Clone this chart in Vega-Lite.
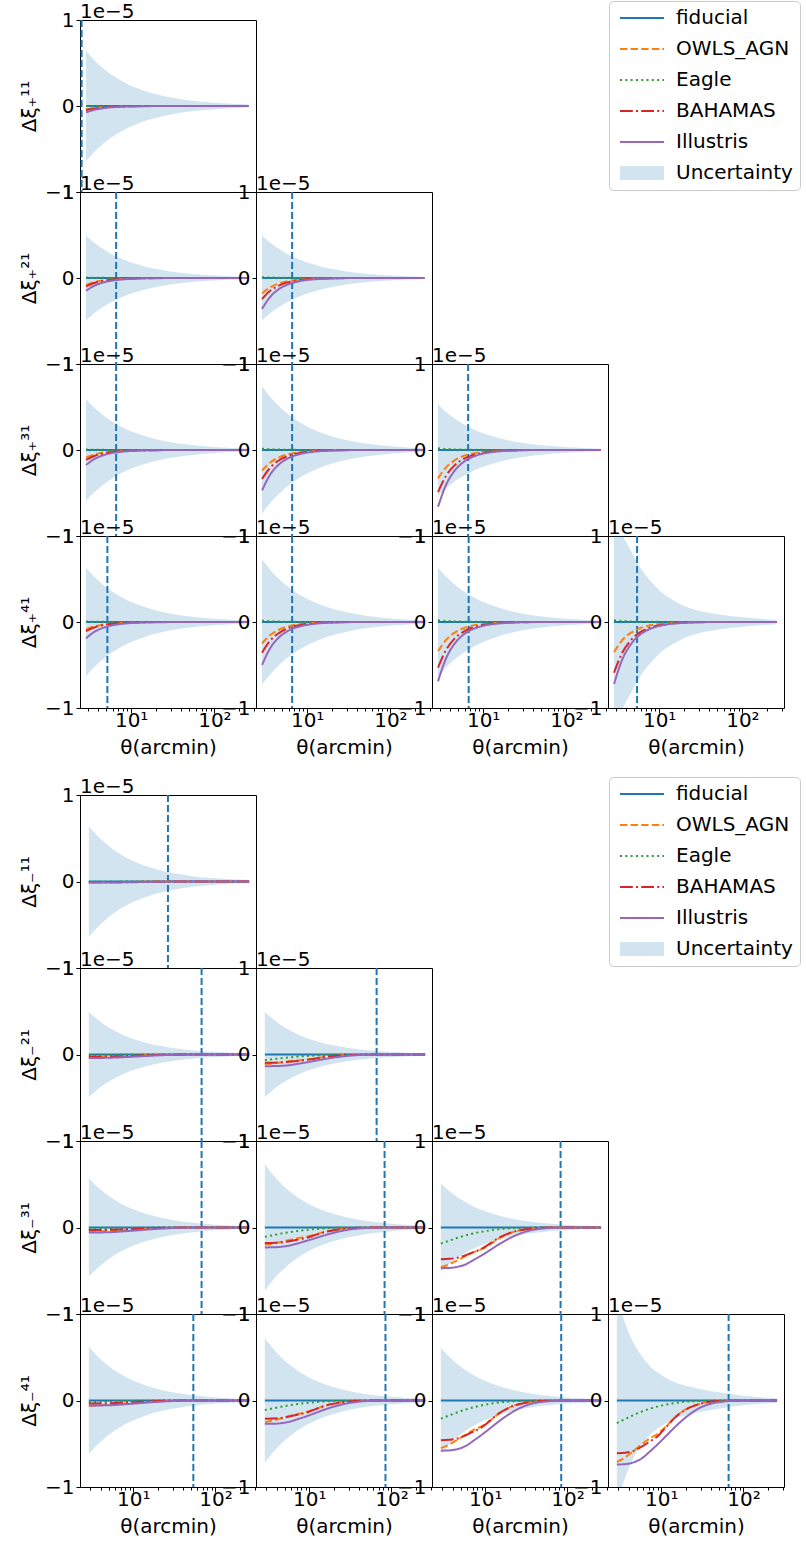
{
"$schema":"https://vega.github.io/schema/vega-lite/v6.json",
"background":"white",
"padding":{"left":19,"top":0,"right":0,"bottom":0},
"datasets":{
"c":[{"p":"a11","t":2.54},{"p":"a21","t":6.6},{"p":"a22","t":6.6},{"p":"a31","t":6.6},{"p":"a32","t":6.6},{"p":"a33","t":6.6},{"p":"a41","t":5.18},{"p":"a42","t":6.6},{"p":"a43","t":6.7},{"p":"a44","t":5.43},
{"p":"m11","t":26.4},{"p":"m21","t":67.8},{"p":"m22","t":66},{"p":"m31","t":67.8},{"p":"m32","t":82.5},{"p":"m33","t":82.5},{"p":"m41","t":53.8},{"p":"m42","t":84.6},{"p":"m43","t":84},{"p":"m44","t":66}],
"d":[
{"p":"a11","t":2.87,"lo":-0.64,"hi":0.64,"f":0,"o":-0.04,"e":0,"b":-0.047,"i":-0.074},
{"p":"a11","t":3.6,"lo":-0.534,"hi":0.534,"f":0,"o":-0.024,"e":0,"b":-0.029,"i":-0.045},
{"p":"a11","t":4.5,"lo":-0.447,"hi":0.447,"f":0,"o":-0.015,"e":0,"b":-0.017,"i":-0.028},
{"p":"a11","t":5.7,"lo":-0.37,"hi":0.37,"f":0,"o":-0.009,"e":0,"b":-0.01,"i":-0.016},
{"p":"a11","t":7.2,"lo":-0.307,"hi":0.307,"f":0,"o":-0.005,"e":0,"b":-0.006,"i":-0.01},
{"p":"a11","t":9.1,"lo":-0.254,"hi":0.254,"f":0,"o":-0.003,"e":0,"b":-0.004,"i":-0.006},
{"p":"a11","t":11.5,"lo":-0.211,"hi":0.211,"f":0,"o":-0.002,"e":0,"b":-0.002,"i":-0.003},
{"p":"a11","t":14.5,"lo":-0.175,"hi":0.175,"f":0,"o":-0.001,"e":0,"b":-0.001,"i":-0.002},
{"p":"a11","t":20,"lo":-0.136,"hi":0.136,"f":0,"o":-0.001,"e":0,"b":-0.001,"i":-0.001},
{"p":"a11","t":30,"lo":-0.098,"hi":0.098,"f":0,"o":0,"e":0,"b":0,"i":0},
{"p":"a11","t":50,"lo":-0.065,"hi":0.065,"f":0,"o":0,"e":0,"b":0,"i":0},
{"p":"a11","t":100,"lo":-0.037,"hi":0.037,"f":0,"o":0,"e":0,"b":0,"i":0},
{"p":"a11","t":257,"lo":-0.017,"hi":0.017,"f":0,"o":0,"e":0,"b":0,"i":0},

{"p":"a21","t":2.87,"lo":-0.49,"hi":0.49,"f":0,"o":-0.08,"e":0.005,"b":-0.098,"i":-0.148},
{"p":"a21","t":3.6,"lo":-0.409,"hi":0.409,"f":0,"o":-0.049,"e":0.003,"b":-0.059,"i":-0.09},
{"p":"a21","t":4.5,"lo":-0.342,"hi":0.342,"f":0,"o":-0.03,"e":0.002,"b":-0.036,"i":-0.055},
{"p":"a21","t":5.7,"lo":-0.283,"hi":0.283,"f":0,"o":-0.018,"e":0.001,"b":-0.022,"i":-0.033},
{"p":"a21","t":7.2,"lo":-0.235,"hi":0.235,"f":0,"o":-0.011,"e":0.001,"b":-0.013,"i":-0.02},
{"p":"a21","t":9.1,"lo":-0.195,"hi":0.195,"f":0,"o":-0.006,"e":0,"b":-0.008,"i":-0.012},
{"p":"a21","t":11.5,"lo":-0.162,"hi":0.162,"f":0,"o":-0.004,"e":0,"b":-0.005,"i":-0.007},
{"p":"a21","t":14.5,"lo":-0.134,"hi":0.134,"f":0,"o":-0.002,"e":0,"b":-0.003,"i":-0.004},
{"p":"a21","t":20,"lo":-0.104,"hi":0.104,"f":0,"o":-0.001,"e":0,"b":-0.001,"i":-0.002},
{"p":"a21","t":30,"lo":-0.075,"hi":0.075,"f":0,"o":0,"e":0,"b":0,"i":-0.001},
{"p":"a21","t":50,"lo":-0.05,"hi":0.05,"f":0,"o":0,"e":0,"b":0,"i":0},
{"p":"a21","t":100,"lo":-0.028,"hi":0.028,"f":0,"o":0,"e":0,"b":0,"i":0},
{"p":"a21","t":257,"lo":-0.013,"hi":0.013,"f":0,"o":0,"e":0,"b":0,"i":0},

{"p":"a22","t":2.87,"lo":-0.49,"hi":0.49,"f":0,"o":-0.18,"e":0.01,"b":-0.245,"i":-0.36},
{"p":"a22","t":3.6,"lo":-0.409,"hi":0.409,"f":0,"o":-0.109,"e":0.006,"b":-0.149,"i":-0.219},
{"p":"a22","t":4.5,"lo":-0.342,"hi":0.342,"f":0,"o":-0.067,"e":0.004,"b":-0.091,"i":-0.134},
{"p":"a22","t":5.7,"lo":-0.283,"hi":0.283,"f":0,"o":-0.04,"e":0.002,"b":-0.054,"i":-0.08},
{"p":"a22","t":7.2,"lo":-0.235,"hi":0.235,"f":0,"o":-0.024,"e":0.001,"b":-0.032,"i":-0.048},
{"p":"a22","t":9.1,"lo":-0.195,"hi":0.195,"f":0,"o":-0.014,"e":0.001,"b":-0.019,"i":-0.028},
{"p":"a22","t":11.5,"lo":-0.162,"hi":0.162,"f":0,"o":-0.008,"e":0,"b":-0.012,"i":-0.017},
{"p":"a22","t":14.5,"lo":-0.134,"hi":0.134,"f":0,"o":-0.005,"e":0,"b":-0.007,"i":-0.01},
{"p":"a22","t":20,"lo":-0.104,"hi":0.104,"f":0,"o":-0.003,"e":0,"b":-0.003,"i":-0.005},
{"p":"a22","t":30,"lo":-0.075,"hi":0.075,"f":0,"o":-0.001,"e":0,"b":-0.001,"i":-0.001},
{"p":"a22","t":50,"lo":-0.05,"hi":0.05,"f":0,"o":0,"e":0,"b":0,"i":0},
{"p":"a22","t":100,"lo":-0.028,"hi":0.028,"f":0,"o":0,"e":0,"b":0,"i":0},
{"p":"a22","t":257,"lo":-0.013,"hi":0.013,"f":0,"o":0,"e":0,"b":0,"i":0},

{"p":"a31","t":2.87,"lo":-0.59,"hi":0.59,"f":0,"o":-0.086,"e":0.005,"b":-0.116,"i":-0.174},
{"p":"a31","t":3.6,"lo":-0.492,"hi":0.492,"f":0,"o":-0.052,"e":0.003,"b":-0.07,"i":-0.106},
{"p":"a31","t":4.5,"lo":-0.412,"hi":0.412,"f":0,"o":-0.032,"e":0.002,"b":-0.043,"i":-0.065},
{"p":"a31","t":5.7,"lo":-0.341,"hi":0.341,"f":0,"o":-0.019,"e":0.001,"b":-0.026,"i":-0.038},
{"p":"a31","t":7.2,"lo":-0.283,"hi":0.283,"f":0,"o":-0.011,"e":0.001,"b":-0.015,"i":-0.023},
{"p":"a31","t":9.1,"lo":-0.234,"hi":0.234,"f":0,"o":-0.007,"e":0,"b":-0.009,"i":-0.014},
{"p":"a31","t":11.5,"lo":-0.195,"hi":0.195,"f":0,"o":-0.004,"e":0,"b":-0.005,"i":-0.008},
{"p":"a31","t":14.5,"lo":-0.162,"hi":0.162,"f":0,"o":-0.002,"e":0,"b":-0.003,"i":-0.005},
{"p":"a31","t":20,"lo":-0.125,"hi":0.125,"f":0,"o":-0.001,"e":0,"b":-0.002,"i":-0.002},
{"p":"a31","t":30,"lo":-0.09,"hi":0.09,"f":0,"o":0,"e":0,"b":0,"i":-0.001},
{"p":"a31","t":50,"lo":-0.06,"hi":0.06,"f":0,"o":0,"e":0,"b":0,"i":0},
{"p":"a31","t":100,"lo":-0.034,"hi":0.034,"f":0,"o":0,"e":0,"b":0,"i":0},
{"p":"a31","t":257,"lo":-0.016,"hi":0.016,"f":0,"o":0,"e":0,"b":0,"i":0},

{"p":"a32","t":2.87,"lo":-0.74,"hi":0.74,"f":0,"o":-0.24,"e":0.015,"b":-0.337,"i":-0.47},
{"p":"a32","t":3.6,"lo":-0.617,"hi":0.617,"f":0,"o":-0.146,"e":0.009,"b":-0.205,"i":-0.285},
{"p":"a32","t":4.5,"lo":-0.517,"hi":0.517,"f":0,"o":-0.089,"e":0.006,"b":-0.125,"i":-0.175},
{"p":"a32","t":5.7,"lo":-0.428,"hi":0.428,"f":0,"o":-0.053,"e":0.003,"b":-0.074,"i":-0.104},
{"p":"a32","t":7.2,"lo":-0.354,"hi":0.354,"f":0,"o":-0.032,"e":0.002,"b":-0.044,"i":-0.062},
{"p":"a32","t":9.1,"lo":-0.294,"hi":0.294,"f":0,"o":-0.019,"e":0.001,"b":-0.027,"i":-0.037},
{"p":"a32","t":11.5,"lo":-0.244,"hi":0.244,"f":0,"o":-0.011,"e":0.001,"b":-0.016,"i":-0.022},
{"p":"a32","t":14.5,"lo":-0.203,"hi":0.203,"f":0,"o":-0.007,"e":0,"b":-0.009,"i":-0.013},
{"p":"a32","t":20,"lo":-0.157,"hi":0.157,"f":0,"o":-0.003,"e":0,"b":-0.005,"i":-0.007},
{"p":"a32","t":30,"lo":-0.113,"hi":0.113,"f":0,"o":-0.001,"e":0,"b":-0.001,"i":-0.002},
{"p":"a32","t":50,"lo":-0.075,"hi":0.075,"f":0,"o":0,"e":0,"b":0,"i":0},
{"p":"a32","t":100,"lo":-0.043,"hi":0.043,"f":0,"o":0,"e":0,"b":0,"i":0},
{"p":"a32","t":257,"lo":-0.02,"hi":0.02,"f":0,"o":0,"e":0,"b":0,"i":0},

{"p":"a33","t":2.87,"lo":-0.53,"hi":0.53,"f":0,"o":-0.33,"e":0.02,"b":-0.49,"i":-0.66},
{"p":"a33","t":3.6,"lo":-0.442,"hi":0.442,"f":0,"o":-0.2,"e":0.012,"b":-0.297,"i":-0.401},
{"p":"a33","t":4.5,"lo":-0.37,"hi":0.37,"f":0,"o":-0.123,"e":0.007,"b":-0.182,"i":-0.246},
{"p":"a33","t":5.7,"lo":-0.306,"hi":0.306,"f":0,"o":-0.073,"e":0.004,"b":-0.108,"i":-0.146},
{"p":"a33","t":7.2,"lo":-0.254,"hi":0.254,"f":0,"o":-0.044,"e":0.003,"b":-0.065,"i":-0.087},
{"p":"a33","t":9.1,"lo":-0.21,"hi":0.21,"f":0,"o":-0.026,"e":0.002,"b":-0.039,"i":-0.052},
{"p":"a33","t":11.5,"lo":-0.175,"hi":0.175,"f":0,"o":-0.016,"e":0.001,"b":-0.023,"i":-0.031},
{"p":"a33","t":14.5,"lo":-0.145,"hi":0.145,"f":0,"o":-0.009,"e":0.001,"b":-0.014,"i":-0.018},
{"p":"a33","t":20,"lo":-0.112,"hi":0.112,"f":0,"o":-0.005,"e":0,"b":-0.007,"i":-0.009},
{"p":"a33","t":30,"lo":-0.081,"hi":0.081,"f":0,"o":-0.001,"e":0,"b":-0.002,"i":-0.003},
{"p":"a33","t":50,"lo":-0.054,"hi":0.054,"f":0,"o":0,"e":0,"b":0,"i":0},
{"p":"a33","t":100,"lo":-0.031,"hi":0.031,"f":0,"o":0,"e":0,"b":0,"i":0},
{"p":"a33","t":257,"lo":-0.014,"hi":0.014,"f":0,"o":0,"e":0,"b":0,"i":0},

{"p":"a41","t":2.87,"lo":-0.63,"hi":0.63,"f":0,"o":-0.085,"e":0.005,"b":-0.105,"i":-0.19},
{"p":"a41","t":3.6,"lo":-0.525,"hi":0.525,"f":0,"o":-0.052,"e":0.003,"b":-0.064,"i":-0.115},
{"p":"a41","t":4.5,"lo":-0.44,"hi":0.44,"f":0,"o":-0.032,"e":0.002,"b":-0.039,"i":-0.071},
{"p":"a41","t":5.7,"lo":-0.364,"hi":0.364,"f":0,"o":-0.019,"e":0.001,"b":-0.023,"i":-0.042},
{"p":"a41","t":7.2,"lo":-0.302,"hi":0.302,"f":0,"o":-0.011,"e":0.001,"b":-0.014,"i":-0.025},
{"p":"a41","t":9.1,"lo":-0.25,"hi":0.25,"f":0,"o":-0.007,"e":0,"b":-0.008,"i":-0.015},
{"p":"a41","t":11.5,"lo":-0.208,"hi":0.208,"f":0,"o":-0.004,"e":0,"b":-0.005,"i":-0.009},
{"p":"a41","t":14.5,"lo":-0.173,"hi":0.173,"f":0,"o":-0.002,"e":0,"b":-0.003,"i":-0.005},
{"p":"a41","t":20,"lo":-0.134,"hi":0.134,"f":0,"o":-0.001,"e":0,"b":-0.001,"i":-0.003},
{"p":"a41","t":30,"lo":-0.096,"hi":0.096,"f":0,"o":0,"e":0,"b":0,"i":-0.001},
{"p":"a41","t":50,"lo":-0.064,"hi":0.064,"f":0,"o":0,"e":0,"b":0,"i":0},
{"p":"a41","t":100,"lo":-0.037,"hi":0.037,"f":0,"o":0,"e":0,"b":0,"i":0},
{"p":"a41","t":257,"lo":-0.017,"hi":0.017,"f":0,"o":0,"e":0,"b":0,"i":0},

{"p":"a42","t":2.87,"lo":-0.73,"hi":0.73,"f":0,"o":-0.25,"e":0.015,"b":-0.357,"i":-0.5},
{"p":"a42","t":3.6,"lo":-0.609,"hi":0.609,"f":0,"o":-0.152,"e":0.009,"b":-0.217,"i":-0.304},
{"p":"a42","t":4.5,"lo":-0.51,"hi":0.51,"f":0,"o":-0.093,"e":0.006,"b":-0.133,"i":-0.186},
{"p":"a42","t":5.7,"lo":-0.422,"hi":0.422,"f":0,"o":-0.055,"e":0.003,"b":-0.079,"i":-0.111},
{"p":"a42","t":7.2,"lo":-0.35,"hi":0.35,"f":0,"o":-0.033,"e":0.002,"b":-0.047,"i":-0.066},
{"p":"a42","t":9.1,"lo":-0.29,"hi":0.29,"f":0,"o":-0.02,"e":0.001,"b":-0.028,"i":-0.04},
{"p":"a42","t":11.5,"lo":-0.241,"hi":0.241,"f":0,"o":-0.012,"e":0.001,"b":-0.017,"i":-0.024},
{"p":"a42","t":14.5,"lo":-0.2,"hi":0.2,"f":0,"o":-0.007,"e":0,"b":-0.01,"i":-0.014},
{"p":"a42","t":20,"lo":-0.155,"hi":0.155,"f":0,"o":-0.004,"e":0,"b":-0.005,"i":-0.007},
{"p":"a42","t":30,"lo":-0.112,"hi":0.112,"f":0,"o":-0.001,"e":0,"b":-0.001,"i":-0.002},
{"p":"a42","t":50,"lo":-0.074,"hi":0.074,"f":0,"o":0,"e":0,"b":0,"i":0},
{"p":"a42","t":100,"lo":-0.042,"hi":0.042,"f":0,"o":0,"e":0,"b":0,"i":0},
{"p":"a42","t":257,"lo":-0.02,"hi":0.02,"f":0,"o":0,"e":0,"b":0,"i":0},

{"p":"a43","t":2.87,"lo":-0.63,"hi":0.63,"f":0,"o":-0.34,"e":0.02,"b":-0.53,"i":-0.69},
{"p":"a43","t":3.6,"lo":-0.525,"hi":0.525,"f":0,"o":-0.206,"e":0.012,"b":-0.322,"i":-0.419},
{"p":"a43","t":4.5,"lo":-0.44,"hi":0.44,"f":0,"o":-0.126,"e":0.007,"b":-0.197,"i":-0.257},
{"p":"a43","t":5.7,"lo":-0.364,"hi":0.364,"f":0,"o":-0.075,"e":0.004,"b":-0.117,"i":-0.152},
{"p":"a43","t":7.2,"lo":-0.302,"hi":0.302,"f":0,"o":-0.045,"e":0.003,"b":-0.07,"i":-0.091},
{"p":"a43","t":9.1,"lo":-0.25,"hi":0.25,"f":0,"o":-0.027,"e":0.002,"b":-0.042,"i":-0.055},
{"p":"a43","t":11.5,"lo":-0.208,"hi":0.208,"f":0,"o":-0.016,"e":0.001,"b":-0.025,"i":-0.032},
{"p":"a43","t":14.5,"lo":-0.173,"hi":0.173,"f":0,"o":-0.01,"e":0.001,"b":-0.015,"i":-0.019},
{"p":"a43","t":20,"lo":-0.134,"hi":0.134,"f":0,"o":-0.005,"e":0,"b":-0.007,"i":-0.01},
{"p":"a43","t":30,"lo":-0.096,"hi":0.096,"f":0,"o":-0.001,"e":0,"b":-0.002,"i":-0.003},
{"p":"a43","t":50,"lo":-0.064,"hi":0.064,"f":0,"o":0,"e":0,"b":0,"i":0},
{"p":"a43","t":100,"lo":-0.037,"hi":0.037,"f":0,"o":0,"e":0,"b":0,"i":0},
{"p":"a43","t":257,"lo":-0.017,"hi":0.017,"f":0,"o":0,"e":0,"b":0,"i":0},

{"p":"a44","t":2.87,"lo":-1.25,"hi":1.25,"f":0,"o":-0.35,"e":0.02,"b":-0.59,"i":-0.72},
{"p":"a44","t":3.6,"lo":-1.02,"hi":1.02,"f":0,"o":-0.212,"e":0.012,"b":-0.358,"i":-0.437},
{"p":"a44","t":4.5,"lo":-0.84,"hi":0.84,"f":0,"o":-0.13,"e":0.007,"b":-0.219,"i":-0.268},
{"p":"a44","t":5.7,"lo":-0.66,"hi":0.66,"f":0,"o":-0.077,"e":0.004,"b":-0.13,"i":-0.159},
{"p":"a44","t":7.2,"lo":-0.52,"hi":0.52,"f":0,"o":-0.046,"e":0.003,"b":-0.078,"i":-0.095},
{"p":"a44","t":9.1,"lo":-0.41,"hi":0.41,"f":0,"o":-0.028,"e":0.002,"b":-0.047,"i":-0.057},
{"p":"a44","t":11.5,"lo":-0.32,"hi":0.32,"f":0,"o":-0.016,"e":0.001,"b":-0.028,"i":-0.034},
{"p":"a44","t":14.5,"lo":-0.26,"hi":0.26,"f":0,"o":-0.01,"e":0.001,"b":-0.017,"i":-0.02},
{"p":"a44","t":20,"lo":-0.185,"hi":0.185,"f":0,"o":-0.005,"e":0,"b":-0.008,"i":-0.01},
{"p":"a44","t":30,"lo":-0.13,"hi":0.13,"f":0,"o":-0.001,"e":0,"b":-0.002,"i":-0.003},
{"p":"a44","t":50,"lo":-0.09,"hi":0.09,"f":0,"o":0,"e":0,"b":0,"i":0},
{"p":"a44","t":100,"lo":-0.055,"hi":0.055,"f":0,"o":0,"e":0,"b":0,"i":0},
{"p":"a44","t":257,"lo":-0.025,"hi":0.025,"f":0,"o":0,"e":0,"b":0,"i":0},

{"p":"m11","t":2.87,"lo":-0.64,"hi":0.64,"f":0,"o":-0.01,"e":-0.003,"b":-0.01,"i":-0.012},
{"p":"m11","t":3.6,"lo":-0.534,"hi":0.534,"f":0,"o":-0.009,"e":-0.002,"b":-0.01,"i":-0.012},
{"p":"m11","t":4.5,"lo":-0.447,"hi":0.447,"f":0,"o":-0.008,"e":-0.002,"b":-0.01,"i":-0.012},
{"p":"m11","t":5.7,"lo":-0.37,"hi":0.37,"f":0,"o":-0.007,"e":-0.002,"b":-0.009,"i":-0.011},
{"p":"m11","t":7.2,"lo":-0.307,"hi":0.307,"f":0,"o":-0.006,"e":-0.001,"b":-0.008,"i":-0.01},
{"p":"m11","t":9.1,"lo":-0.254,"hi":0.254,"f":0,"o":-0.005,"e":-0.001,"b":-0.007,"i":-0.008},
{"p":"m11","t":11.5,"lo":-0.211,"hi":0.211,"f":0,"o":-0.004,"e":-0.001,"b":-0.005,"i":-0.007},
{"p":"m11","t":14.5,"lo":-0.175,"hi":0.175,"f":0,"o":-0.003,"e":0,"b":-0.003,"i":-0.005},
{"p":"m11","t":20,"lo":-0.136,"hi":0.136,"f":0,"o":-0.001,"e":0,"b":-0.002,"i":-0.003},
{"p":"m11","t":30,"lo":-0.098,"hi":0.098,"f":0,"o":0,"e":0,"b":-0.001,"i":-0.001},
{"p":"m11","t":50,"lo":-0.065,"hi":0.065,"f":0,"o":0,"e":0,"b":0,"i":0},
{"p":"m11","t":100,"lo":-0.037,"hi":0.037,"f":0,"o":0,"e":0,"b":0,"i":0},
{"p":"m11","t":257,"lo":-0.017,"hi":0.017,"f":0,"o":0,"e":0,"b":0,"i":0},

{"p":"m21","t":2.87,"lo":-0.49,"hi":0.49,"f":0,"o":-0.035,"e":-0.01,"b":-0.027,"i":-0.04},
{"p":"m21","t":3.6,"lo":-0.409,"hi":0.409,"f":0,"o":-0.033,"e":-0.008,"b":-0.027,"i":-0.04},
{"p":"m21","t":4.5,"lo":-0.342,"hi":0.342,"f":0,"o":-0.029,"e":-0.007,"b":-0.026,"i":-0.039},
{"p":"m21","t":5.7,"lo":-0.283,"hi":0.283,"f":0,"o":-0.025,"e":-0.005,"b":-0.024,"i":-0.036},
{"p":"m21","t":7.2,"lo":-0.235,"hi":0.235,"f":0,"o":-0.022,"e":-0.004,"b":-0.021,"i":-0.032},
{"p":"m21","t":9.1,"lo":-0.195,"hi":0.195,"f":0,"o":-0.019,"e":-0.003,"b":-0.018,"i":-0.027},
{"p":"m21","t":11.5,"lo":-0.162,"hi":0.162,"f":0,"o":-0.015,"e":-0.002,"b":-0.014,"i":-0.022},
{"p":"m21","t":14.5,"lo":-0.134,"hi":0.134,"f":0,"o":-0.01,"e":-0.001,"b":-0.009,"i":-0.017},
{"p":"m21","t":20,"lo":-0.104,"hi":0.104,"f":0,"o":-0.005,"e":-0.001,"b":-0.005,"i":-0.01},
{"p":"m21","t":30,"lo":-0.075,"hi":0.075,"f":0,"o":-0.002,"e":0,"b":-0.002,"i":-0.004},
{"p":"m21","t":50,"lo":-0.05,"hi":0.05,"f":0,"o":0,"e":0,"b":0,"i":-0.001},
{"p":"m21","t":100,"lo":-0.028,"hi":0.028,"f":0,"o":0,"e":0,"b":0,"i":0},
{"p":"m21","t":257,"lo":-0.013,"hi":0.013,"f":0,"o":0,"e":0,"b":0,"i":0},

{"p":"m22","t":2.87,"lo":-0.49,"hi":0.49,"f":0,"o":-0.11,"e":-0.065,"b":-0.096,"i":-0.135},
{"p":"m22","t":3.6,"lo":-0.409,"hi":0.409,"f":0,"o":-0.102,"e":-0.054,"b":-0.095,"i":-0.134},
{"p":"m22","t":4.5,"lo":-0.342,"hi":0.342,"f":0,"o":-0.091,"e":-0.043,"b":-0.092,"i":-0.131},
{"p":"m22","t":5.7,"lo":-0.283,"hi":0.283,"f":0,"o":-0.079,"e":-0.033,"b":-0.084,"i":-0.123},
{"p":"m22","t":7.2,"lo":-0.235,"hi":0.235,"f":0,"o":-0.068,"e":-0.024,"b":-0.075,"i":-0.108},
{"p":"m22","t":9.1,"lo":-0.195,"hi":0.195,"f":0,"o":-0.059,"e":-0.017,"b":-0.064,"i":-0.092},
{"p":"m22","t":11.5,"lo":-0.162,"hi":0.162,"f":0,"o":-0.046,"e":-0.012,"b":-0.048,"i":-0.074},
{"p":"m22","t":14.5,"lo":-0.134,"hi":0.134,"f":0,"o":-0.031,"e":-0.007,"b":-0.032,"i":-0.057},
{"p":"m22","t":20,"lo":-0.104,"hi":0.104,"f":0,"o":-0.015,"e":-0.003,"b":-0.016,"i":-0.035},
{"p":"m22","t":30,"lo":-0.075,"hi":0.075,"f":0,"o":-0.006,"e":-0.001,"b":-0.006,"i":-0.015},
{"p":"m22","t":50,"lo":-0.05,"hi":0.05,"f":0,"o":-0.001,"e":0,"b":-0.001,"i":-0.003},
{"p":"m22","t":100,"lo":-0.028,"hi":0.028,"f":0,"o":0,"e":0,"b":0,"i":0},
{"p":"m22","t":257,"lo":-0.013,"hi":0.013,"f":0,"o":0,"e":0,"b":0,"i":0},

{"p":"m31","t":2.87,"lo":-0.57,"hi":0.57,"f":0,"o":-0.05,"e":-0.02,"b":-0.03,"i":-0.058},
{"p":"m31","t":3.6,"lo":-0.475,"hi":0.475,"f":0,"o":-0.047,"e":-0.017,"b":-0.03,"i":-0.058},
{"p":"m31","t":4.5,"lo":-0.398,"hi":0.398,"f":0,"o":-0.042,"e":-0.013,"b":-0.029,"i":-0.056},
{"p":"m31","t":5.7,"lo":-0.329,"hi":0.329,"f":0,"o":-0.036,"e":-0.01,"b":-0.026,"i":-0.053},
{"p":"m31","t":7.2,"lo":-0.273,"hi":0.273,"f":0,"o":-0.031,"e":-0.007,"b":-0.023,"i":-0.046},
{"p":"m31","t":9.1,"lo":-0.226,"hi":0.226,"f":0,"o":-0.027,"e":-0.005,"b":-0.02,"i":-0.039},
{"p":"m31","t":11.5,"lo":-0.188,"hi":0.188,"f":0,"o":-0.021,"e":-0.004,"b":-0.015,"i":-0.032},
{"p":"m31","t":14.5,"lo":-0.156,"hi":0.156,"f":0,"o":-0.014,"e":-0.002,"b":-0.01,"i":-0.024},
{"p":"m31","t":20,"lo":-0.121,"hi":0.121,"f":0,"o":-0.007,"e":-0.001,"b":-0.005,"i":-0.015},
{"p":"m31","t":30,"lo":-0.087,"hi":0.087,"f":0,"o":-0.003,"e":0,"b":-0.002,"i":-0.006},
{"p":"m31","t":50,"lo":-0.058,"hi":0.058,"f":0,"o":-0.001,"e":0,"b":0,"i":-0.001},
{"p":"m31","t":100,"lo":-0.033,"hi":0.033,"f":0,"o":0,"e":0,"b":0,"i":0},
{"p":"m31","t":257,"lo":-0.015,"hi":0.015,"f":0,"o":0,"e":0,"b":0,"i":0},

{"p":"m32","t":2.87,"lo":-0.73,"hi":0.73,"f":0,"o":-0.2,"e":-0.108,"b":-0.18,"i":-0.23},
{"p":"m32","t":3.6,"lo":-0.609,"hi":0.609,"f":0,"o":-0.186,"e":-0.09,"b":-0.178,"i":-0.229},
{"p":"m32","t":4.5,"lo":-0.51,"hi":0.51,"f":0,"o":-0.166,"e":-0.071,"b":-0.173,"i":-0.223},
{"p":"m32","t":5.7,"lo":-0.422,"hi":0.422,"f":0,"o":-0.144,"e":-0.054,"b":-0.158,"i":-0.209},
{"p":"m32","t":7.2,"lo":-0.35,"hi":0.35,"f":0,"o":-0.124,"e":-0.04,"b":-0.14,"i":-0.184},
{"p":"m32","t":9.1,"lo":-0.29,"hi":0.29,"f":0,"o":-0.108,"e":-0.028,"b":-0.121,"i":-0.156},
{"p":"m32","t":11.5,"lo":-0.241,"hi":0.241,"f":0,"o":-0.084,"e":-0.019,"b":-0.09,"i":-0.127},
{"p":"m32","t":14.5,"lo":-0.2,"hi":0.2,"f":0,"o":-0.056,"e":-0.012,"b":-0.059,"i":-0.097},
{"p":"m32","t":20,"lo":-0.155,"hi":0.155,"f":0,"o":-0.028,"e":-0.005,"b":-0.031,"i":-0.06},
{"p":"m32","t":30,"lo":-0.112,"hi":0.112,"f":0,"o":-0.01,"e":-0.002,"b":-0.011,"i":-0.025},
{"p":"m32","t":50,"lo":-0.074,"hi":0.074,"f":0,"o":-0.002,"e":0,"b":-0.002,"i":-0.006},
{"p":"m32","t":100,"lo":-0.042,"hi":0.042,"f":0,"o":0,"e":0,"b":0,"i":0},
{"p":"m32","t":257,"lo":-0.02,"hi":0.02,"f":0,"o":0,"e":0,"b":0,"i":0},

{"p":"m33","t":2.87,"lo":-0.51,"hi":0.51,"f":0,"o":-0.46,"e":-0.185,"b":-0.366,"i":-0.47},
{"p":"m33","t":3.6,"lo":-0.425,"hi":0.425,"f":0,"o":-0.428,"e":-0.154,"b":-0.362,"i":-0.468},
{"p":"m33","t":4.5,"lo":-0.356,"hi":0.356,"f":0,"o":-0.382,"e":-0.122,"b":-0.351,"i":-0.456},
{"p":"m33","t":5.7,"lo":-0.295,"hi":0.295,"f":0,"o":-0.331,"e":-0.093,"b":-0.322,"i":-0.428},
{"p":"m33","t":7.2,"lo":-0.244,"hi":0.244,"f":0,"o":-0.285,"e":-0.068,"b":-0.285,"i":-0.376},
{"p":"m33","t":9.1,"lo":-0.202,"hi":0.202,"f":0,"o":-0.248,"e":-0.048,"b":-0.245,"i":-0.32},
{"p":"m33","t":11.5,"lo":-0.168,"hi":0.168,"f":0,"o":-0.193,"e":-0.033,"b":-0.183,"i":-0.259},
{"p":"m33","t":14.5,"lo":-0.14,"hi":0.14,"f":0,"o":-0.129,"e":-0.02,"b":-0.121,"i":-0.197},
{"p":"m33","t":20,"lo":-0.108,"hi":0.108,"f":0,"o":-0.064,"e":-0.009,"b":-0.062,"i":-0.122},
{"p":"m33","t":30,"lo":-0.078,"hi":0.078,"f":0,"o":-0.023,"e":-0.004,"b":-0.022,"i":-0.052},
{"p":"m33","t":50,"lo":-0.052,"hi":0.052,"f":0,"o":-0.005,"e":0,"b":-0.004,"i":-0.012},
{"p":"m33","t":100,"lo":-0.03,"hi":0.03,"f":0,"o":0,"e":0,"b":0,"i":0},
{"p":"m33","t":257,"lo":-0.014,"hi":0.014,"f":0,"o":0,"e":0,"b":0,"i":0},

{"p":"m41","t":2.87,"lo":-0.62,"hi":0.62,"f":0,"o":-0.06,"e":-0.02,"b":-0.035,"i":-0.058},
{"p":"m41","t":3.6,"lo":-0.517,"hi":0.517,"f":0,"o":-0.056,"e":-0.017,"b":-0.035,"i":-0.058},
{"p":"m41","t":4.5,"lo":-0.433,"hi":0.433,"f":0,"o":-0.05,"e":-0.013,"b":-0.034,"i":-0.056},
{"p":"m41","t":5.7,"lo":-0.358,"hi":0.358,"f":0,"o":-0.043,"e":-0.01,"b":-0.031,"i":-0.053},
{"p":"m41","t":7.2,"lo":-0.297,"hi":0.297,"f":0,"o":-0.037,"e":-0.007,"b":-0.027,"i":-0.046},
{"p":"m41","t":9.1,"lo":-0.246,"hi":0.246,"f":0,"o":-0.032,"e":-0.005,"b":-0.023,"i":-0.039},
{"p":"m41","t":11.5,"lo":-0.205,"hi":0.205,"f":0,"o":-0.025,"e":-0.004,"b":-0.018,"i":-0.032},
{"p":"m41","t":14.5,"lo":-0.17,"hi":0.17,"f":0,"o":-0.017,"e":-0.002,"b":-0.012,"i":-0.024},
{"p":"m41","t":20,"lo":-0.131,"hi":0.131,"f":0,"o":-0.008,"e":-0.001,"b":-0.006,"i":-0.015},
{"p":"m41","t":30,"lo":-0.095,"hi":0.095,"f":0,"o":-0.003,"e":0,"b":-0.002,"i":-0.006},
{"p":"m41","t":50,"lo":-0.063,"hi":0.063,"f":0,"o":-0.001,"e":0,"b":0,"i":-0.001},
{"p":"m41","t":100,"lo":-0.036,"hi":0.036,"f":0,"o":0,"e":0,"b":0,"i":0},
{"p":"m41","t":257,"lo":-0.017,"hi":0.017,"f":0,"o":0,"e":0,"b":0,"i":0},

{"p":"m42","t":2.87,"lo":-0.72,"hi":0.72,"f":0,"o":-0.25,"e":-0.11,"b":-0.21,"i":-0.27},
{"p":"m42","t":3.6,"lo":-0.6,"hi":0.6,"f":0,"o":-0.233,"e":-0.091,"b":-0.208,"i":-0.269},
{"p":"m42","t":4.5,"lo":-0.503,"hi":0.503,"f":0,"o":-0.208,"e":-0.073,"b":-0.202,"i":-0.262},
{"p":"m42","t":5.7,"lo":-0.416,"hi":0.416,"f":0,"o":-0.18,"e":-0.055,"b":-0.185,"i":-0.246},
{"p":"m42","t":7.2,"lo":-0.345,"hi":0.345,"f":0,"o":-0.155,"e":-0.041,"b":-0.164,"i":-0.216},
{"p":"m42","t":9.1,"lo":-0.286,"hi":0.286,"f":0,"o":-0.135,"e":-0.029,"b":-0.141,"i":-0.184},
{"p":"m42","t":11.5,"lo":-0.238,"hi":0.238,"f":0,"o":-0.105,"e":-0.02,"b":-0.105,"i":-0.149},
{"p":"m42","t":14.5,"lo":-0.197,"hi":0.197,"f":0,"o":-0.07,"e":-0.012,"b":-0.069,"i":-0.113},
{"p":"m42","t":20,"lo":-0.153,"hi":0.153,"f":0,"o":-0.035,"e":-0.006,"b":-0.036,"i":-0.07},
{"p":"m42","t":30,"lo":-0.11,"hi":0.11,"f":0,"o":-0.013,"e":-0.002,"b":-0.013,"i":-0.03},
{"p":"m42","t":50,"lo":-0.073,"hi":0.073,"f":0,"o":-0.003,"e":0,"b":-0.002,"i":-0.007},
{"p":"m42","t":100,"lo":-0.042,"hi":0.042,"f":0,"o":0,"e":0,"b":0,"i":0},
{"p":"m42","t":257,"lo":-0.019,"hi":0.019,"f":0,"o":0,"e":0,"b":0,"i":0},

{"p":"m43","t":2.87,"lo":-0.61,"hi":0.61,"f":0,"o":-0.55,"e":-0.21,"b":-0.46,"i":-0.58},
{"p":"m43","t":3.6,"lo":-0.509,"hi":0.509,"f":0,"o":-0.512,"e":-0.174,"b":-0.455,"i":-0.577},
{"p":"m43","t":4.5,"lo":-0.426,"hi":0.426,"f":0,"o":-0.457,"e":-0.139,"b":-0.442,"i":-0.563},
{"p":"m43","t":5.7,"lo":-0.353,"hi":0.353,"f":0,"o":-0.396,"e":-0.105,"b":-0.405,"i":-0.528},
{"p":"m43","t":7.2,"lo":-0.292,"hi":0.292,"f":0,"o":-0.341,"e":-0.078,"b":-0.359,"i":-0.464},
{"p":"m43","t":9.1,"lo":-0.242,"hi":0.242,"f":0,"o":-0.297,"e":-0.055,"b":-0.308,"i":-0.394},
{"p":"m43","t":11.5,"lo":-0.201,"hi":0.201,"f":0,"o":-0.231,"e":-0.038,"b":-0.23,"i":-0.319},
{"p":"m43","t":14.5,"lo":-0.167,"hi":0.167,"f":0,"o":-0.154,"e":-0.023,"b":-0.152,"i":-0.244},
{"p":"m43","t":20,"lo":-0.129,"hi":0.129,"f":0,"o":-0.077,"e":-0.011,"b":-0.078,"i":-0.151},
{"p":"m43","t":30,"lo":-0.093,"hi":0.093,"f":0,"o":-0.028,"e":-0.004,"b":-0.028,"i":-0.064},
{"p":"m43","t":50,"lo":-0.062,"hi":0.062,"f":0,"o":-0.006,"e":0,"b":-0.005,"i":-0.015},
{"p":"m43","t":100,"lo":-0.035,"hi":0.035,"f":0,"o":0,"e":0,"b":0,"i":0},
{"p":"m43","t":257,"lo":-0.016,"hi":0.016,"f":0,"o":0,"e":0,"b":0,"i":0},

{"p":"m44","t":2.87,"lo":-1.2,"hi":1.2,"f":0,"o":-0.71,"e":-0.26,"b":-0.61,"i":-0.74},
{"p":"m44","t":3.6,"lo":-0.9,"hi":0.9,"f":0,"o":-0.66,"e":-0.216,"b":-0.604,"i":-0.736},
{"p":"m44","t":4.5,"lo":-0.68,"hi":0.68,"f":0,"o":-0.589,"e":-0.172,"b":-0.586,"i":-0.718},
{"p":"m44","t":5.7,"lo":-0.52,"hi":0.52,"f":0,"o":-0.511,"e":-0.13,"b":-0.537,"i":-0.673},
{"p":"m44","t":7.2,"lo":-0.4,"hi":0.4,"f":0,"o":-0.44,"e":-0.096,"b":-0.476,"i":-0.592},
{"p":"m44","t":9.1,"lo":-0.32,"hi":0.32,"f":0,"o":-0.383,"e":-0.068,"b":-0.409,"i":-0.503},
{"p":"m44","t":11.5,"lo":-0.26,"hi":0.26,"f":0,"o":-0.298,"e":-0.047,"b":-0.305,"i":-0.407},
{"p":"m44","t":14.5,"lo":-0.21,"hi":0.21,"f":0,"o":-0.199,"e":-0.029,"b":-0.201,"i":-0.311},
{"p":"m44","t":20,"lo":-0.17,"hi":0.17,"f":0,"o":-0.099,"e":-0.013,"b":-0.104,"i":-0.192},
{"p":"m44","t":30,"lo":-0.13,"hi":0.13,"f":0,"o":-0.036,"e":-0.005,"b":-0.037,"i":-0.081},
{"p":"m44","t":50,"lo":-0.095,"hi":0.095,"f":0,"o":-0.007,"e":0,"b":-0.006,"i":-0.019},
{"p":"m44","t":100,"lo":-0.055,"hi":0.055,"f":0,"o":0,"e":0,"b":0,"i":0},
{"p":"m44","t":257,"lo":-0.025,"hi":0.025,"f":0,"o":0,"e":0,"b":0,"i":0}
]},
"columns":4,
"spacing":0,
"bounds":"flush",
"align":"each",
"resolve":{"scale":{"color":"independent","strokeDash":"independent"},"legend":{"color":"independent","strokeDash":"independent"}},
"concat":[
  {"width":176,"height":172,"title":"1e−5","encoding":{"x":{"field":"t","type":"quantitative","scale":{"type":"log","domain":[2.43,316],"nice":false},"axis":null}},"layer":[
   {"data":{"name":"d"},"transform":[{"filter":"datum.p=='a11'"}],"mark":{"type":"area","color":"#1f77b4","opacity":0.2,"clip":true,"interpolate":"monotone"},"encoding":{"y":{"field":"lo","type":"quantitative","scale":{"domain":[-1,1],"nice":false},"axis":{"values":[-1,0,1],"labelExpr":"datum.value<0?'−1':datum.value>0?'1':'0'","title":"Δξ₊¹¹"}},"y2":{"field":"hi"}}},
   {"data":{"name":"c"},"transform":[{"filter":"datum.p=='a11'"}],"mark":{"type":"rule","color":"#1f77b4","strokeWidth":2,"strokeDash":[7,3]},"encoding":{}},
   {"data":{"name":"d"},"transform":[{"filter":"datum.p=='a11'"},{"fold":["f","o","e","b","i"],"as":["model","v"]}],"mark":{"type":"line","strokeWidth":2,"clip":true,"interpolate":"monotone"},"encoding":{"y":{"field":"v","type":"quantitative","axis":{"values":[-1,0,1],"labelExpr":"datum.value<0?'−1':datum.value>0?'1':'0'","title":"Δξ₊¹¹"}},
    "color":{"field":"model","type":"nominal","scale":{"domain":["f","o","e","b","i","u"],"range":["#1f77b4","#ff7f0e","#2ca02c","#d62728","#9467bd","#d2e4f0"]},"legend":null},
    "strokeDash":{"field":"model","type":"nominal","scale":{"domain":["f","o","e","b","i","u"],"range":[[1,0],[7.4,3.2],[2,3.3],[12.8,3.2,2,3.2],[1,0],[1,0]]},"legend":null}}}
  ]},
  {"width":1,"height":1,"data":{"values":[]},"mark":"point","view":{"stroke":null}},
  {"width":1,"height":1,"data":{"values":[]},"mark":"point","view":{"stroke":null}},
  {"width":1,"height":1,"data":{"values":[]},"mark":"line","view":{"stroke":null},"encoding":{"x":{"field":"t","type":"quantitative","axis":null},"y":{"field":"v","type":"quantitative","axis":null},
    "color":{"field":"model","type":"nominal","scale":{"domain":["f","o","e","b","i","u"],"range":["#1f77b4","#ff7f0e","#2ca02c","#d62728","#9467bd","#d2e4f0"]},"legend":{"title":null,"orient":"none","legendX":1,"legendY":-19,"labelExpr":"datum.value=='f'?'fiducial':datum.value=='o'?'OWLS_AGN':datum.value=='e'?'Eagle':datum.value=='b'?'BAHAMAS':datum.value=='i'?'Illustris':'Uncertainty'","encode":{"symbols":{"update":{"shape":{"signal":"datum.value=='u'?'M-1,-0.32H1V0.32H-1Z':'stroke'"},"fill":{"signal":"datum.value=='u'?'#d2e4f0':'transparent'"},"strokeWidth":{"signal":"datum.value=='u'?0:2"}}}}}},
    "strokeDash":{"field":"model","type":"nominal","scale":{"domain":["f","o","e","b","i","u"],"range":[[1,0],[7.4,3.2],[2,3.3],[12.8,3.2,2,3.2],[1,0],[1,0]]},"legend":{"title":null,"orient":"none","legendX":1,"legendY":-19,"labelExpr":"datum.value=='f'?'fiducial':datum.value=='o'?'OWLS_AGN':datum.value=='e'?'Eagle':datum.value=='b'?'BAHAMAS':datum.value=='i'?'Illustris':'Uncertainty'","encode":{"symbols":{"update":{"shape":{"signal":"datum.value=='u'?'M-1,-0.32H1V0.32H-1Z':'stroke'"},"fill":{"signal":"datum.value=='u'?'#d2e4f0':'transparent'"},"strokeWidth":{"signal":"datum.value=='u'?0:2"}}}}}}}},

  {"width":176,"height":172,"title":"1e−5","encoding":{"x":{"field":"t","type":"quantitative","scale":{"type":"log","domain":[2.43,316],"nice":false},"axis":null}},"layer":[
   {"data":{"name":"d"},"transform":[{"filter":"datum.p=='a21'"}],"mark":{"type":"area","color":"#1f77b4","opacity":0.2,"clip":true,"interpolate":"monotone"},"encoding":{"y":{"field":"lo","type":"quantitative","scale":{"domain":[-1,1],"nice":false},"axis":{"values":[-1,0,1],"labelExpr":"datum.value<0?'−1':datum.value>0?'1':'0'","title":"Δξ₊²¹"}},"y2":{"field":"hi"}}},
   {"data":{"name":"c"},"transform":[{"filter":"datum.p=='a21'"}],"mark":{"type":"rule","color":"#1f77b4","strokeWidth":2,"strokeDash":[7,3]},"encoding":{}},
   {"data":{"name":"d"},"transform":[{"filter":"datum.p=='a21'"},{"fold":["f","o","e","b","i"],"as":["model","v"]}],"mark":{"type":"line","strokeWidth":2,"clip":true,"interpolate":"monotone"},"encoding":{"y":{"field":"v","type":"quantitative","axis":{"values":[-1,0,1],"labelExpr":"datum.value<0?'−1':datum.value>0?'1':'0'","title":"Δξ₊²¹"}},
    "color":{"field":"model","type":"nominal","scale":{"domain":["f","o","e","b","i","u"],"range":["#1f77b4","#ff7f0e","#2ca02c","#d62728","#9467bd","#d2e4f0"]},"legend":null},
    "strokeDash":{"field":"model","type":"nominal","scale":{"domain":["f","o","e","b","i","u"],"range":[[1,0],[7.4,3.2],[2,3.3],[12.8,3.2,2,3.2],[1,0],[1,0]]},"legend":null}}}
  ]},
  {"width":176,"height":172,"title":"1e−5","encoding":{"x":{"field":"t","type":"quantitative","scale":{"type":"log","domain":[2.43,316],"nice":false},"axis":null}},"layer":[
   {"data":{"name":"d"},"transform":[{"filter":"datum.p=='a22'"}],"mark":{"type":"area","color":"#1f77b4","opacity":0.2,"clip":true,"interpolate":"monotone"},"encoding":{"y":{"field":"lo","type":"quantitative","scale":{"domain":[-1,1],"nice":false},"axis":{"values":[-1,0,1],"labelExpr":"datum.value<0?'−1':datum.value>0?'1':'0'","title":null}},"y2":{"field":"hi"}}},
   {"data":{"name":"c"},"transform":[{"filter":"datum.p=='a22'"}],"mark":{"type":"rule","color":"#1f77b4","strokeWidth":2,"strokeDash":[7,3]},"encoding":{}},
   {"data":{"name":"d"},"transform":[{"filter":"datum.p=='a22'"},{"fold":["f","o","e","b","i"],"as":["model","v"]}],"mark":{"type":"line","strokeWidth":2,"clip":true,"interpolate":"monotone"},"encoding":{"y":{"field":"v","type":"quantitative","axis":{"values":[-1,0,1],"labelExpr":"datum.value<0?'−1':datum.value>0?'1':'0'","title":null}},
    "color":{"field":"model","type":"nominal","scale":{"domain":["f","o","e","b","i","u"],"range":["#1f77b4","#ff7f0e","#2ca02c","#d62728","#9467bd","#d2e4f0"]},"legend":null},
    "strokeDash":{"field":"model","type":"nominal","scale":{"domain":["f","o","e","b","i","u"],"range":[[1,0],[7.4,3.2],[2,3.3],[12.8,3.2,2,3.2],[1,0],[1,0]]},"legend":null}}}
  ]},
  {"width":1,"height":1,"data":{"values":[]},"mark":"point","view":{"stroke":null}},
  {"width":1,"height":1,"data":{"values":[]},"mark":"point","view":{"stroke":null}},

  {"width":176,"height":172,"title":"1e−5","encoding":{"x":{"field":"t","type":"quantitative","scale":{"type":"log","domain":[2.43,316],"nice":false},"axis":null}},"layer":[
   {"data":{"name":"d"},"transform":[{"filter":"datum.p=='a31'"}],"mark":{"type":"area","color":"#1f77b4","opacity":0.2,"clip":true,"interpolate":"monotone"},"encoding":{"y":{"field":"lo","type":"quantitative","scale":{"domain":[-1,1],"nice":false},"axis":{"values":[-1,0,1],"labelExpr":"datum.value<0?'−1':datum.value>0?'1':'0'","title":"Δξ₊³¹"}},"y2":{"field":"hi"}}},
   {"data":{"name":"c"},"transform":[{"filter":"datum.p=='a31'"}],"mark":{"type":"rule","color":"#1f77b4","strokeWidth":2,"strokeDash":[7,3]},"encoding":{}},
   {"data":{"name":"d"},"transform":[{"filter":"datum.p=='a31'"},{"fold":["f","o","e","b","i"],"as":["model","v"]}],"mark":{"type":"line","strokeWidth":2,"clip":true,"interpolate":"monotone"},"encoding":{"y":{"field":"v","type":"quantitative","axis":{"values":[-1,0,1],"labelExpr":"datum.value<0?'−1':datum.value>0?'1':'0'","title":"Δξ₊³¹"}},
    "color":{"field":"model","type":"nominal","scale":{"domain":["f","o","e","b","i","u"],"range":["#1f77b4","#ff7f0e","#2ca02c","#d62728","#9467bd","#d2e4f0"]},"legend":null},
    "strokeDash":{"field":"model","type":"nominal","scale":{"domain":["f","o","e","b","i","u"],"range":[[1,0],[7.4,3.2],[2,3.3],[12.8,3.2,2,3.2],[1,0],[1,0]]},"legend":null}}}
  ]},
  {"width":176,"height":172,"title":"1e−5","encoding":{"x":{"field":"t","type":"quantitative","scale":{"type":"log","domain":[2.43,316],"nice":false},"axis":null}},"layer":[
   {"data":{"name":"d"},"transform":[{"filter":"datum.p=='a32'"}],"mark":{"type":"area","color":"#1f77b4","opacity":0.2,"clip":true,"interpolate":"monotone"},"encoding":{"y":{"field":"lo","type":"quantitative","scale":{"domain":[-1,1],"nice":false},"axis":{"values":[-1,0,1],"labelExpr":"datum.value<0?'−1':datum.value>0?'1':'0'","title":null}},"y2":{"field":"hi"}}},
   {"data":{"name":"c"},"transform":[{"filter":"datum.p=='a32'"}],"mark":{"type":"rule","color":"#1f77b4","strokeWidth":2,"strokeDash":[7,3]},"encoding":{}},
   {"data":{"name":"d"},"transform":[{"filter":"datum.p=='a32'"},{"fold":["f","o","e","b","i"],"as":["model","v"]}],"mark":{"type":"line","strokeWidth":2,"clip":true,"interpolate":"monotone"},"encoding":{"y":{"field":"v","type":"quantitative","axis":{"values":[-1,0,1],"labelExpr":"datum.value<0?'−1':datum.value>0?'1':'0'","title":null}},
    "color":{"field":"model","type":"nominal","scale":{"domain":["f","o","e","b","i","u"],"range":["#1f77b4","#ff7f0e","#2ca02c","#d62728","#9467bd","#d2e4f0"]},"legend":null},
    "strokeDash":{"field":"model","type":"nominal","scale":{"domain":["f","o","e","b","i","u"],"range":[[1,0],[7.4,3.2],[2,3.3],[12.8,3.2,2,3.2],[1,0],[1,0]]},"legend":null}}}
  ]},
  {"width":176,"height":172,"title":"1e−5","encoding":{"x":{"field":"t","type":"quantitative","scale":{"type":"log","domain":[2.43,316],"nice":false},"axis":null}},"layer":[
   {"data":{"name":"d"},"transform":[{"filter":"datum.p=='a33'"}],"mark":{"type":"area","color":"#1f77b4","opacity":0.2,"clip":true,"interpolate":"monotone"},"encoding":{"y":{"field":"lo","type":"quantitative","scale":{"domain":[-1,1],"nice":false},"axis":{"values":[-1,0,1],"labelExpr":"datum.value<0?'−1':datum.value>0?'1':'0'","title":null}},"y2":{"field":"hi"}}},
   {"data":{"name":"c"},"transform":[{"filter":"datum.p=='a33'"}],"mark":{"type":"rule","color":"#1f77b4","strokeWidth":2,"strokeDash":[7,3]},"encoding":{}},
   {"data":{"name":"d"},"transform":[{"filter":"datum.p=='a33'"},{"fold":["f","o","e","b","i"],"as":["model","v"]}],"mark":{"type":"line","strokeWidth":2,"clip":true,"interpolate":"monotone"},"encoding":{"y":{"field":"v","type":"quantitative","axis":{"values":[-1,0,1],"labelExpr":"datum.value<0?'−1':datum.value>0?'1':'0'","title":null}},
    "color":{"field":"model","type":"nominal","scale":{"domain":["f","o","e","b","i","u"],"range":["#1f77b4","#ff7f0e","#2ca02c","#d62728","#9467bd","#d2e4f0"]},"legend":null},
    "strokeDash":{"field":"model","type":"nominal","scale":{"domain":["f","o","e","b","i","u"],"range":[[1,0],[7.4,3.2],[2,3.3],[12.8,3.2,2,3.2],[1,0],[1,0]]},"legend":null}}}
  ]},
  {"width":1,"height":1,"data":{"values":[]},"mark":"point","view":{"stroke":null}},

  {"width":176,"height":172,"title":"1e−5","encoding":{"x":{"field":"t","type":"quantitative","scale":{"type":"log","domain":[2.43,316],"nice":false},"axis":{"values":[3,4,5,6,7,8,9,10,20,30,40,50,60,70,80,90,100,200,300],"labelExpr":"datum.value==10?'10¹':datum.value==100?'10²':''","tickSize":{"condition":{"test":"datum.value==10||datum.value==100","value":5},"value":3},"title":"θ(arcmin)"}}},"layer":[
   {"data":{"name":"d"},"transform":[{"filter":"datum.p=='a41'"}],"mark":{"type":"area","color":"#1f77b4","opacity":0.2,"clip":true,"interpolate":"monotone"},"encoding":{"y":{"field":"lo","type":"quantitative","scale":{"domain":[-1,1],"nice":false},"axis":{"values":[-1,0,1],"labelExpr":"datum.value<0?'−1':datum.value>0?'1':'0'","title":"Δξ₊⁴¹"}},"y2":{"field":"hi"}}},
   {"data":{"name":"c"},"transform":[{"filter":"datum.p=='a41'"}],"mark":{"type":"rule","color":"#1f77b4","strokeWidth":2,"strokeDash":[7,3]},"encoding":{}},
   {"data":{"name":"d"},"transform":[{"filter":"datum.p=='a41'"},{"fold":["f","o","e","b","i"],"as":["model","v"]}],"mark":{"type":"line","strokeWidth":2,"clip":true,"interpolate":"monotone"},"encoding":{"y":{"field":"v","type":"quantitative","axis":{"values":[-1,0,1],"labelExpr":"datum.value<0?'−1':datum.value>0?'1':'0'","title":"Δξ₊⁴¹"}},
    "color":{"field":"model","type":"nominal","scale":{"domain":["f","o","e","b","i","u"],"range":["#1f77b4","#ff7f0e","#2ca02c","#d62728","#9467bd","#d2e4f0"]},"legend":null},
    "strokeDash":{"field":"model","type":"nominal","scale":{"domain":["f","o","e","b","i","u"],"range":[[1,0],[7.4,3.2],[2,3.3],[12.8,3.2,2,3.2],[1,0],[1,0]]},"legend":null}}}
  ]},
  {"width":176,"height":172,"title":"1e−5","encoding":{"x":{"field":"t","type":"quantitative","scale":{"type":"log","domain":[2.43,316],"nice":false},"axis":{"values":[3,4,5,6,7,8,9,10,20,30,40,50,60,70,80,90,100,200,300],"labelExpr":"datum.value==10?'10¹':datum.value==100?'10²':''","tickSize":{"condition":{"test":"datum.value==10||datum.value==100","value":5},"value":3},"title":"θ(arcmin)"}}},"layer":[
   {"data":{"name":"d"},"transform":[{"filter":"datum.p=='a42'"}],"mark":{"type":"area","color":"#1f77b4","opacity":0.2,"clip":true,"interpolate":"monotone"},"encoding":{"y":{"field":"lo","type":"quantitative","scale":{"domain":[-1,1],"nice":false},"axis":{"values":[-1,0,1],"labelExpr":"datum.value<0?'−1':datum.value>0?'1':'0'","title":null}},"y2":{"field":"hi"}}},
   {"data":{"name":"c"},"transform":[{"filter":"datum.p=='a42'"}],"mark":{"type":"rule","color":"#1f77b4","strokeWidth":2,"strokeDash":[7,3]},"encoding":{}},
   {"data":{"name":"d"},"transform":[{"filter":"datum.p=='a42'"},{"fold":["f","o","e","b","i"],"as":["model","v"]}],"mark":{"type":"line","strokeWidth":2,"clip":true,"interpolate":"monotone"},"encoding":{"y":{"field":"v","type":"quantitative","axis":{"values":[-1,0,1],"labelExpr":"datum.value<0?'−1':datum.value>0?'1':'0'","title":null}},
    "color":{"field":"model","type":"nominal","scale":{"domain":["f","o","e","b","i","u"],"range":["#1f77b4","#ff7f0e","#2ca02c","#d62728","#9467bd","#d2e4f0"]},"legend":null},
    "strokeDash":{"field":"model","type":"nominal","scale":{"domain":["f","o","e","b","i","u"],"range":[[1,0],[7.4,3.2],[2,3.3],[12.8,3.2,2,3.2],[1,0],[1,0]]},"legend":null}}}
  ]},
  {"width":176,"height":172,"title":"1e−5","encoding":{"x":{"field":"t","type":"quantitative","scale":{"type":"log","domain":[2.43,316],"nice":false},"axis":{"values":[3,4,5,6,7,8,9,10,20,30,40,50,60,70,80,90,100,200,300],"labelExpr":"datum.value==10?'10¹':datum.value==100?'10²':''","tickSize":{"condition":{"test":"datum.value==10||datum.value==100","value":5},"value":3},"title":"θ(arcmin)"}}},"layer":[
   {"data":{"name":"d"},"transform":[{"filter":"datum.p=='a43'"}],"mark":{"type":"area","color":"#1f77b4","opacity":0.2,"clip":true,"interpolate":"monotone"},"encoding":{"y":{"field":"lo","type":"quantitative","scale":{"domain":[-1,1],"nice":false},"axis":{"values":[-1,0,1],"labelExpr":"datum.value<0?'−1':datum.value>0?'1':'0'","title":null}},"y2":{"field":"hi"}}},
   {"data":{"name":"c"},"transform":[{"filter":"datum.p=='a43'"}],"mark":{"type":"rule","color":"#1f77b4","strokeWidth":2,"strokeDash":[7,3]},"encoding":{}},
   {"data":{"name":"d"},"transform":[{"filter":"datum.p=='a43'"},{"fold":["f","o","e","b","i"],"as":["model","v"]}],"mark":{"type":"line","strokeWidth":2,"clip":true,"interpolate":"monotone"},"encoding":{"y":{"field":"v","type":"quantitative","axis":{"values":[-1,0,1],"labelExpr":"datum.value<0?'−1':datum.value>0?'1':'0'","title":null}},
    "color":{"field":"model","type":"nominal","scale":{"domain":["f","o","e","b","i","u"],"range":["#1f77b4","#ff7f0e","#2ca02c","#d62728","#9467bd","#d2e4f0"]},"legend":null},
    "strokeDash":{"field":"model","type":"nominal","scale":{"domain":["f","o","e","b","i","u"],"range":[[1,0],[7.4,3.2],[2,3.3],[12.8,3.2,2,3.2],[1,0],[1,0]]},"legend":null}}}
  ]},
  {"width":176,"height":172,"title":"1e−5","encoding":{"x":{"field":"t","type":"quantitative","scale":{"type":"log","domain":[2.43,316],"nice":false},"axis":{"values":[3,4,5,6,7,8,9,10,20,30,40,50,60,70,80,90,100,200,300],"labelExpr":"datum.value==10?'10¹':datum.value==100?'10²':''","tickSize":{"condition":{"test":"datum.value==10||datum.value==100","value":5},"value":3},"title":"θ(arcmin)"}}},"layer":[
   {"data":{"name":"d"},"transform":[{"filter":"datum.p=='a44'"}],"mark":{"type":"area","color":"#1f77b4","opacity":0.2,"clip":true,"interpolate":"monotone"},"encoding":{"y":{"field":"lo","type":"quantitative","scale":{"domain":[-1,1],"nice":false},"axis":{"values":[-1,0,1],"labelExpr":"datum.value<0?'−1':datum.value>0?'1':'0'","title":null}},"y2":{"field":"hi"}}},
   {"data":{"name":"c"},"transform":[{"filter":"datum.p=='a44'"}],"mark":{"type":"rule","color":"#1f77b4","strokeWidth":2,"strokeDash":[7,3]},"encoding":{}},
   {"data":{"name":"d"},"transform":[{"filter":"datum.p=='a44'"},{"fold":["f","o","e","b","i"],"as":["model","v"]}],"mark":{"type":"line","strokeWidth":2,"clip":true,"interpolate":"monotone"},"encoding":{"y":{"field":"v","type":"quantitative","axis":{"values":[-1,0,1],"labelExpr":"datum.value<0?'−1':datum.value>0?'1':'0'","title":null}},
    "color":{"field":"model","type":"nominal","scale":{"domain":["f","o","e","b","i","u"],"range":["#1f77b4","#ff7f0e","#2ca02c","#d62728","#9467bd","#d2e4f0"]},"legend":null},
    "strokeDash":{"field":"model","type":"nominal","scale":{"domain":["f","o","e","b","i","u"],"range":[[1,0],[7.4,3.2],[2,3.3],[12.8,3.2,2,3.2],[1,0],[1,0]]},"legend":null}}}
  ]},

  {"width":1,"height":87,"data":{"values":[]},"mark":"point","view":{"stroke":null}},
  {"width":1,"height":87,"data":{"values":[]},"mark":"point","view":{"stroke":null}},
  {"width":1,"height":87,"data":{"values":[]},"mark":"point","view":{"stroke":null}},
  {"width":1,"height":87,"data":{"values":[]},"mark":"point","view":{"stroke":null}},

  {"width":176,"height":173,"title":"1e−5","encoding":{"x":{"field":"t","type":"quantitative","scale":{"type":"log","domain":[2.24,312],"nice":false},"axis":null}},"layer":[
   {"data":{"name":"d"},"transform":[{"filter":"datum.p=='m11'"}],"mark":{"type":"area","color":"#1f77b4","opacity":0.2,"clip":true,"interpolate":"monotone"},"encoding":{"y":{"field":"lo","type":"quantitative","scale":{"domain":[-1,1],"nice":false},"axis":{"values":[-1,0,1],"labelExpr":"datum.value<0?'−1':datum.value>0?'1':'0'","title":"Δξ₋¹¹"}},"y2":{"field":"hi"}}},
   {"data":{"name":"c"},"transform":[{"filter":"datum.p=='m11'"}],"mark":{"type":"rule","color":"#1f77b4","strokeWidth":2,"strokeDash":[7,3]},"encoding":{}},
   {"data":{"name":"d"},"transform":[{"filter":"datum.p=='m11'"},{"fold":["f","o","e","b","i"],"as":["model","v"]}],"mark":{"type":"line","strokeWidth":2,"clip":true,"interpolate":"monotone"},"encoding":{"y":{"field":"v","type":"quantitative","axis":{"values":[-1,0,1],"labelExpr":"datum.value<0?'−1':datum.value>0?'1':'0'","title":"Δξ₋¹¹"}},
    "color":{"field":"model","type":"nominal","scale":{"domain":["f","o","e","b","i","u"],"range":["#1f77b4","#ff7f0e","#2ca02c","#d62728","#9467bd","#d2e4f0"]},"legend":null},
    "strokeDash":{"field":"model","type":"nominal","scale":{"domain":["f","o","e","b","i","u"],"range":[[1,0],[7.4,3.2],[2,3.3],[12.8,3.2,2,3.2],[1,0],[1,0]]},"legend":null}}}
  ]},
  {"width":1,"height":1,"data":{"values":[]},"mark":"point","view":{"stroke":null}},
  {"width":1,"height":1,"data":{"values":[]},"mark":"point","view":{"stroke":null}},
  {"width":1,"height":1,"data":{"values":[]},"mark":"line","view":{"stroke":null},"encoding":{"x":{"field":"t","type":"quantitative","axis":null},"y":{"field":"v","type":"quantitative","axis":null},
    "color":{"field":"model","type":"nominal","scale":{"domain":["f","o","e","b","i","u"],"range":["#1f77b4","#ff7f0e","#2ca02c","#d62728","#9467bd","#d2e4f0"]},"legend":{"title":null,"orient":"none","legendX":1,"legendY":-18,"labelExpr":"datum.value=='f'?'fiducial':datum.value=='o'?'OWLS_AGN':datum.value=='e'?'Eagle':datum.value=='b'?'BAHAMAS':datum.value=='i'?'Illustris':'Uncertainty'","encode":{"symbols":{"update":{"shape":{"signal":"datum.value=='u'?'M-1,-0.32H1V0.32H-1Z':'stroke'"},"fill":{"signal":"datum.value=='u'?'#d2e4f0':'transparent'"},"strokeWidth":{"signal":"datum.value=='u'?0:2"}}}}}},
    "strokeDash":{"field":"model","type":"nominal","scale":{"domain":["f","o","e","b","i","u"],"range":[[1,0],[7.4,3.2],[2,3.3],[12.8,3.2,2,3.2],[1,0],[1,0]]},"legend":{"title":null,"orient":"none","legendX":1,"legendY":-18,"labelExpr":"datum.value=='f'?'fiducial':datum.value=='o'?'OWLS_AGN':datum.value=='e'?'Eagle':datum.value=='b'?'BAHAMAS':datum.value=='i'?'Illustris':'Uncertainty'","encode":{"symbols":{"update":{"shape":{"signal":"datum.value=='u'?'M-1,-0.32H1V0.32H-1Z':'stroke'"},"fill":{"signal":"datum.value=='u'?'#d2e4f0':'transparent'"},"strokeWidth":{"signal":"datum.value=='u'?0:2"}}}}}}}},

  {"width":176,"height":173,"title":"1e−5","encoding":{"x":{"field":"t","type":"quantitative","scale":{"type":"log","domain":[2.24,312],"nice":false},"axis":null}},"layer":[
   {"data":{"name":"d"},"transform":[{"filter":"datum.p=='m21'"}],"mark":{"type":"area","color":"#1f77b4","opacity":0.2,"clip":true,"interpolate":"monotone"},"encoding":{"y":{"field":"lo","type":"quantitative","scale":{"domain":[-1,1],"nice":false},"axis":{"values":[-1,0,1],"labelExpr":"datum.value<0?'−1':datum.value>0?'1':'0'","title":"Δξ₋²¹"}},"y2":{"field":"hi"}}},
   {"data":{"name":"c"},"transform":[{"filter":"datum.p=='m21'"}],"mark":{"type":"rule","color":"#1f77b4","strokeWidth":2,"strokeDash":[7,3]},"encoding":{}},
   {"data":{"name":"d"},"transform":[{"filter":"datum.p=='m21'"},{"fold":["f","o","e","b","i"],"as":["model","v"]}],"mark":{"type":"line","strokeWidth":2,"clip":true,"interpolate":"monotone"},"encoding":{"y":{"field":"v","type":"quantitative","axis":{"values":[-1,0,1],"labelExpr":"datum.value<0?'−1':datum.value>0?'1':'0'","title":"Δξ₋²¹"}},
    "color":{"field":"model","type":"nominal","scale":{"domain":["f","o","e","b","i","u"],"range":["#1f77b4","#ff7f0e","#2ca02c","#d62728","#9467bd","#d2e4f0"]},"legend":null},
    "strokeDash":{"field":"model","type":"nominal","scale":{"domain":["f","o","e","b","i","u"],"range":[[1,0],[7.4,3.2],[2,3.3],[12.8,3.2,2,3.2],[1,0],[1,0]]},"legend":null}}}
  ]},
  {"width":176,"height":173,"title":"1e−5","encoding":{"x":{"field":"t","type":"quantitative","scale":{"type":"log","domain":[2.24,312],"nice":false},"axis":null}},"layer":[
   {"data":{"name":"d"},"transform":[{"filter":"datum.p=='m22'"}],"mark":{"type":"area","color":"#1f77b4","opacity":0.2,"clip":true,"interpolate":"monotone"},"encoding":{"y":{"field":"lo","type":"quantitative","scale":{"domain":[-1,1],"nice":false},"axis":{"values":[-1,0,1],"labelExpr":"datum.value<0?'−1':datum.value>0?'1':'0'","title":null}},"y2":{"field":"hi"}}},
   {"data":{"name":"c"},"transform":[{"filter":"datum.p=='m22'"}],"mark":{"type":"rule","color":"#1f77b4","strokeWidth":2,"strokeDash":[7,3]},"encoding":{}},
   {"data":{"name":"d"},"transform":[{"filter":"datum.p=='m22'"},{"fold":["f","o","e","b","i"],"as":["model","v"]}],"mark":{"type":"line","strokeWidth":2,"clip":true,"interpolate":"monotone"},"encoding":{"y":{"field":"v","type":"quantitative","axis":{"values":[-1,0,1],"labelExpr":"datum.value<0?'−1':datum.value>0?'1':'0'","title":null}},
    "color":{"field":"model","type":"nominal","scale":{"domain":["f","o","e","b","i","u"],"range":["#1f77b4","#ff7f0e","#2ca02c","#d62728","#9467bd","#d2e4f0"]},"legend":null},
    "strokeDash":{"field":"model","type":"nominal","scale":{"domain":["f","o","e","b","i","u"],"range":[[1,0],[7.4,3.2],[2,3.3],[12.8,3.2,2,3.2],[1,0],[1,0]]},"legend":null}}}
  ]},
  {"width":1,"height":1,"data":{"values":[]},"mark":"point","view":{"stroke":null}},
  {"width":1,"height":1,"data":{"values":[]},"mark":"point","view":{"stroke":null}},

  {"width":176,"height":173,"title":"1e−5","encoding":{"x":{"field":"t","type":"quantitative","scale":{"type":"log","domain":[2.24,312],"nice":false},"axis":null}},"layer":[
   {"data":{"name":"d"},"transform":[{"filter":"datum.p=='m31'"}],"mark":{"type":"area","color":"#1f77b4","opacity":0.2,"clip":true,"interpolate":"monotone"},"encoding":{"y":{"field":"lo","type":"quantitative","scale":{"domain":[-1,1],"nice":false},"axis":{"values":[-1,0,1],"labelExpr":"datum.value<0?'−1':datum.value>0?'1':'0'","title":"Δξ₋³¹"}},"y2":{"field":"hi"}}},
   {"data":{"name":"c"},"transform":[{"filter":"datum.p=='m31'"}],"mark":{"type":"rule","color":"#1f77b4","strokeWidth":2,"strokeDash":[7,3]},"encoding":{}},
   {"data":{"name":"d"},"transform":[{"filter":"datum.p=='m31'"},{"fold":["f","o","e","b","i"],"as":["model","v"]}],"mark":{"type":"line","strokeWidth":2,"clip":true,"interpolate":"monotone"},"encoding":{"y":{"field":"v","type":"quantitative","axis":{"values":[-1,0,1],"labelExpr":"datum.value<0?'−1':datum.value>0?'1':'0'","title":"Δξ₋³¹"}},
    "color":{"field":"model","type":"nominal","scale":{"domain":["f","o","e","b","i","u"],"range":["#1f77b4","#ff7f0e","#2ca02c","#d62728","#9467bd","#d2e4f0"]},"legend":null},
    "strokeDash":{"field":"model","type":"nominal","scale":{"domain":["f","o","e","b","i","u"],"range":[[1,0],[7.4,3.2],[2,3.3],[12.8,3.2,2,3.2],[1,0],[1,0]]},"legend":null}}}
  ]},
  {"width":176,"height":173,"title":"1e−5","encoding":{"x":{"field":"t","type":"quantitative","scale":{"type":"log","domain":[2.24,312],"nice":false},"axis":null}},"layer":[
   {"data":{"name":"d"},"transform":[{"filter":"datum.p=='m32'"}],"mark":{"type":"area","color":"#1f77b4","opacity":0.2,"clip":true,"interpolate":"monotone"},"encoding":{"y":{"field":"lo","type":"quantitative","scale":{"domain":[-1,1],"nice":false},"axis":{"values":[-1,0,1],"labelExpr":"datum.value<0?'−1':datum.value>0?'1':'0'","title":null}},"y2":{"field":"hi"}}},
   {"data":{"name":"c"},"transform":[{"filter":"datum.p=='m32'"}],"mark":{"type":"rule","color":"#1f77b4","strokeWidth":2,"strokeDash":[7,3]},"encoding":{}},
   {"data":{"name":"d"},"transform":[{"filter":"datum.p=='m32'"},{"fold":["f","o","e","b","i"],"as":["model","v"]}],"mark":{"type":"line","strokeWidth":2,"clip":true,"interpolate":"monotone"},"encoding":{"y":{"field":"v","type":"quantitative","axis":{"values":[-1,0,1],"labelExpr":"datum.value<0?'−1':datum.value>0?'1':'0'","title":null}},
    "color":{"field":"model","type":"nominal","scale":{"domain":["f","o","e","b","i","u"],"range":["#1f77b4","#ff7f0e","#2ca02c","#d62728","#9467bd","#d2e4f0"]},"legend":null},
    "strokeDash":{"field":"model","type":"nominal","scale":{"domain":["f","o","e","b","i","u"],"range":[[1,0],[7.4,3.2],[2,3.3],[12.8,3.2,2,3.2],[1,0],[1,0]]},"legend":null}}}
  ]},
  {"width":176,"height":173,"title":"1e−5","encoding":{"x":{"field":"t","type":"quantitative","scale":{"type":"log","domain":[2.24,312],"nice":false},"axis":null}},"layer":[
   {"data":{"name":"d"},"transform":[{"filter":"datum.p=='m33'"}],"mark":{"type":"area","color":"#1f77b4","opacity":0.2,"clip":true,"interpolate":"monotone"},"encoding":{"y":{"field":"lo","type":"quantitative","scale":{"domain":[-1,1],"nice":false},"axis":{"values":[-1,0,1],"labelExpr":"datum.value<0?'−1':datum.value>0?'1':'0'","title":null}},"y2":{"field":"hi"}}},
   {"data":{"name":"c"},"transform":[{"filter":"datum.p=='m33'"}],"mark":{"type":"rule","color":"#1f77b4","strokeWidth":2,"strokeDash":[7,3]},"encoding":{}},
   {"data":{"name":"d"},"transform":[{"filter":"datum.p=='m33'"},{"fold":["f","o","e","b","i"],"as":["model","v"]}],"mark":{"type":"line","strokeWidth":2,"clip":true,"interpolate":"monotone"},"encoding":{"y":{"field":"v","type":"quantitative","axis":{"values":[-1,0,1],"labelExpr":"datum.value<0?'−1':datum.value>0?'1':'0'","title":null}},
    "color":{"field":"model","type":"nominal","scale":{"domain":["f","o","e","b","i","u"],"range":["#1f77b4","#ff7f0e","#2ca02c","#d62728","#9467bd","#d2e4f0"]},"legend":null},
    "strokeDash":{"field":"model","type":"nominal","scale":{"domain":["f","o","e","b","i","u"],"range":[[1,0],[7.4,3.2],[2,3.3],[12.8,3.2,2,3.2],[1,0],[1,0]]},"legend":null}}}
  ]},
  {"width":1,"height":1,"data":{"values":[]},"mark":"point","view":{"stroke":null}},

  {"width":176,"height":173,"title":"1e−5","encoding":{"x":{"field":"t","type":"quantitative","scale":{"type":"log","domain":[2.24,312],"nice":false},"axis":{"values":[3,4,5,6,7,8,9,10,20,30,40,50,60,70,80,90,100,200,300],"labelExpr":"datum.value==10?'10¹':datum.value==100?'10²':''","tickSize":{"condition":{"test":"datum.value==10||datum.value==100","value":5},"value":3},"title":"θ(arcmin)"}}},"layer":[
   {"data":{"name":"d"},"transform":[{"filter":"datum.p=='m41'"}],"mark":{"type":"area","color":"#1f77b4","opacity":0.2,"clip":true,"interpolate":"monotone"},"encoding":{"y":{"field":"lo","type":"quantitative","scale":{"domain":[-1,1],"nice":false},"axis":{"values":[-1,0,1],"labelExpr":"datum.value<0?'−1':datum.value>0?'1':'0'","title":"Δξ₋⁴¹"}},"y2":{"field":"hi"}}},
   {"data":{"name":"c"},"transform":[{"filter":"datum.p=='m41'"}],"mark":{"type":"rule","color":"#1f77b4","strokeWidth":2,"strokeDash":[7,3]},"encoding":{}},
   {"data":{"name":"d"},"transform":[{"filter":"datum.p=='m41'"},{"fold":["f","o","e","b","i"],"as":["model","v"]}],"mark":{"type":"line","strokeWidth":2,"clip":true,"interpolate":"monotone"},"encoding":{"y":{"field":"v","type":"quantitative","axis":{"values":[-1,0,1],"labelExpr":"datum.value<0?'−1':datum.value>0?'1':'0'","title":"Δξ₋⁴¹"}},
    "color":{"field":"model","type":"nominal","scale":{"domain":["f","o","e","b","i","u"],"range":["#1f77b4","#ff7f0e","#2ca02c","#d62728","#9467bd","#d2e4f0"]},"legend":null},
    "strokeDash":{"field":"model","type":"nominal","scale":{"domain":["f","o","e","b","i","u"],"range":[[1,0],[7.4,3.2],[2,3.3],[12.8,3.2,2,3.2],[1,0],[1,0]]},"legend":null}}}
  ]},
  {"width":176,"height":173,"title":"1e−5","encoding":{"x":{"field":"t","type":"quantitative","scale":{"type":"log","domain":[2.24,312],"nice":false},"axis":{"values":[3,4,5,6,7,8,9,10,20,30,40,50,60,70,80,90,100,200,300],"labelExpr":"datum.value==10?'10¹':datum.value==100?'10²':''","tickSize":{"condition":{"test":"datum.value==10||datum.value==100","value":5},"value":3},"title":"θ(arcmin)"}}},"layer":[
   {"data":{"name":"d"},"transform":[{"filter":"datum.p=='m42'"}],"mark":{"type":"area","color":"#1f77b4","opacity":0.2,"clip":true,"interpolate":"monotone"},"encoding":{"y":{"field":"lo","type":"quantitative","scale":{"domain":[-1,1],"nice":false},"axis":{"values":[-1,0,1],"labelExpr":"datum.value<0?'−1':datum.value>0?'1':'0'","title":null}},"y2":{"field":"hi"}}},
   {"data":{"name":"c"},"transform":[{"filter":"datum.p=='m42'"}],"mark":{"type":"rule","color":"#1f77b4","strokeWidth":2,"strokeDash":[7,3]},"encoding":{}},
   {"data":{"name":"d"},"transform":[{"filter":"datum.p=='m42'"},{"fold":["f","o","e","b","i"],"as":["model","v"]}],"mark":{"type":"line","strokeWidth":2,"clip":true,"interpolate":"monotone"},"encoding":{"y":{"field":"v","type":"quantitative","axis":{"values":[-1,0,1],"labelExpr":"datum.value<0?'−1':datum.value>0?'1':'0'","title":null}},
    "color":{"field":"model","type":"nominal","scale":{"domain":["f","o","e","b","i","u"],"range":["#1f77b4","#ff7f0e","#2ca02c","#d62728","#9467bd","#d2e4f0"]},"legend":null},
    "strokeDash":{"field":"model","type":"nominal","scale":{"domain":["f","o","e","b","i","u"],"range":[[1,0],[7.4,3.2],[2,3.3],[12.8,3.2,2,3.2],[1,0],[1,0]]},"legend":null}}}
  ]},
  {"width":176,"height":173,"title":"1e−5","encoding":{"x":{"field":"t","type":"quantitative","scale":{"type":"log","domain":[2.24,312],"nice":false},"axis":{"values":[3,4,5,6,7,8,9,10,20,30,40,50,60,70,80,90,100,200,300],"labelExpr":"datum.value==10?'10¹':datum.value==100?'10²':''","tickSize":{"condition":{"test":"datum.value==10||datum.value==100","value":5},"value":3},"title":"θ(arcmin)"}}},"layer":[
   {"data":{"name":"d"},"transform":[{"filter":"datum.p=='m43'"}],"mark":{"type":"area","color":"#1f77b4","opacity":0.2,"clip":true,"interpolate":"monotone"},"encoding":{"y":{"field":"lo","type":"quantitative","scale":{"domain":[-1,1],"nice":false},"axis":{"values":[-1,0,1],"labelExpr":"datum.value<0?'−1':datum.value>0?'1':'0'","title":null}},"y2":{"field":"hi"}}},
   {"data":{"name":"c"},"transform":[{"filter":"datum.p=='m43'"}],"mark":{"type":"rule","color":"#1f77b4","strokeWidth":2,"strokeDash":[7,3]},"encoding":{}},
   {"data":{"name":"d"},"transform":[{"filter":"datum.p=='m43'"},{"fold":["f","o","e","b","i"],"as":["model","v"]}],"mark":{"type":"line","strokeWidth":2,"clip":true,"interpolate":"monotone"},"encoding":{"y":{"field":"v","type":"quantitative","axis":{"values":[-1,0,1],"labelExpr":"datum.value<0?'−1':datum.value>0?'1':'0'","title":null}},
    "color":{"field":"model","type":"nominal","scale":{"domain":["f","o","e","b","i","u"],"range":["#1f77b4","#ff7f0e","#2ca02c","#d62728","#9467bd","#d2e4f0"]},"legend":null},
    "strokeDash":{"field":"model","type":"nominal","scale":{"domain":["f","o","e","b","i","u"],"range":[[1,0],[7.4,3.2],[2,3.3],[12.8,3.2,2,3.2],[1,0],[1,0]]},"legend":null}}}
  ]},
  {"width":176,"height":173,"title":"1e−5","encoding":{"x":{"field":"t","type":"quantitative","scale":{"type":"log","domain":[2.24,312],"nice":false},"axis":{"values":[3,4,5,6,7,8,9,10,20,30,40,50,60,70,80,90,100,200,300],"labelExpr":"datum.value==10?'10¹':datum.value==100?'10²':''","tickSize":{"condition":{"test":"datum.value==10||datum.value==100","value":5},"value":3},"title":"θ(arcmin)"}}},"layer":[
   {"data":{"name":"d"},"transform":[{"filter":"datum.p=='m44'"}],"mark":{"type":"area","color":"#1f77b4","opacity":0.2,"clip":true,"interpolate":"monotone"},"encoding":{"y":{"field":"lo","type":"quantitative","scale":{"domain":[-1,1],"nice":false},"axis":{"values":[-1,0,1],"labelExpr":"datum.value<0?'−1':datum.value>0?'1':'0'","title":null}},"y2":{"field":"hi"}}},
   {"data":{"name":"c"},"transform":[{"filter":"datum.p=='m44'"}],"mark":{"type":"rule","color":"#1f77b4","strokeWidth":2,"strokeDash":[7,3]},"encoding":{}},
   {"data":{"name":"d"},"transform":[{"filter":"datum.p=='m44'"},{"fold":["f","o","e","b","i"],"as":["model","v"]}],"mark":{"type":"line","strokeWidth":2,"clip":true,"interpolate":"monotone"},"encoding":{"y":{"field":"v","type":"quantitative","axis":{"values":[-1,0,1],"labelExpr":"datum.value<0?'−1':datum.value>0?'1':'0'","title":null}},
    "color":{"field":"model","type":"nominal","scale":{"domain":["f","o","e","b","i","u"],"range":["#1f77b4","#ff7f0e","#2ca02c","#d62728","#9467bd","#d2e4f0"]},"legend":null},
    "strokeDash":{"field":"model","type":"nominal","scale":{"domain":["f","o","e","b","i","u"],"range":[[1,0],[7.4,3.2],[2,3.3],[12.8,3.2,2,3.2],[1,0],[1,0]]},"legend":null}}}
  ]}
],
"config":{
 "font":"DejaVu Sans",
 "view":{"stroke":"black","strokeWidth":1},
 "axis":{"grid":false,"domain":false,"labelFont":"DejaVu Sans","titleFont":"DejaVu Sans","labelFontSize":20,"titleFontSize":20,"titleFontWeight":"normal","labelColor":"black","titleColor":"black","tickColor":"black","tickSize":5,"labelPadding":3,"titlePadding":5},
 "axisX":{"labelPadding":-3,"titlePadding":7},
 "axisY":{"labelPadding":2,"tickSize":4},
 "title":{"font":"DejaVu Sans","fontSize":20,"fontWeight":"normal","color":"black","anchor":"start","frame":"group","baseline":"alphabetic","offset":3,"dy":15},
 "legend":{"labelFont":"DejaVu Sans","labelFontSize":20,"labelColor":"black","symbolType":"stroke","symbolSize":1936,"symbolStrokeWidth":2,"symbolOffset":16,"rowPadding":11,"padding":7,"labelOffset":24,"strokeColor":"#cccccc","fillColor":"white","cornerRadius":4}
}
}
